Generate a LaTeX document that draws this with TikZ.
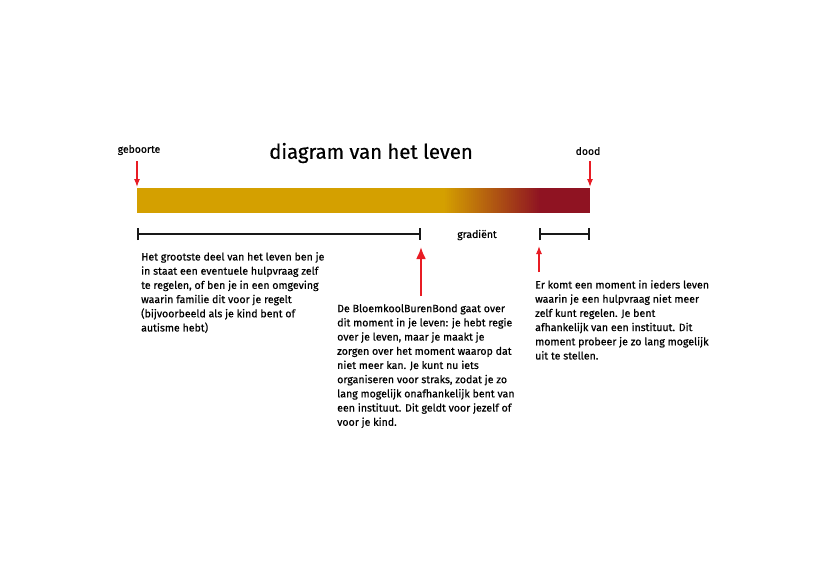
\documentclass[tikz,border=0pt]{standalone}
\usepackage{fontspec}
\setmainfont{Fira Sans}[FakeBold=0.5]
\usetikzlibrary{arrows.meta, positioning}
\definecolor{gold}{RGB}{212,160,0}
\definecolor{wine}{RGB}{143,19,34}
\definecolor{signal}{RGB}{232,28,36}
\tikzset{>=latex}

\begin{document}
\begin{tikzpicture}[x=1pt,y=-1pt]
    \useasboundingbox[fill=white] (0,0) rectangle (830,587);
    % the bar of life
    \fill[gold] (137,188) rectangle (444,213);
    \foreach \i in {0,...,48} {
      \pgfmathsetmacro\share{100-\i*100/48}
      \pgfmathsetmacro\xa{443+2*\i}
      \fill[gold!\share!wine] (\xa,188) rectangle (\xa+2.4,213);
    }
    \fill[wine] (540,188) rectangle (590,213);
    \coordinate (start) at (137,187);
    \coordinate (end) at (590,187);
    \coordinate (spanA) at (137,234);
    \coordinate (spanB) at (421,234);
    \coordinate (spanC) at (539,234);
    \coordinate (spanD) at (590,234);
    \coordinate (pointA) at (421,296);
    \coordinate (tipA) at (421,247);
    \coordinate (pointB) at (539,272);
    \coordinate (tipB) at (539,246);
    \begin{scope}[every node/.style={inner sep=0pt, text=black}]
      \node (title) at (371,153) {\fontsize{20.3}{24}\selectfont diagram van het leven};
      \node (birth) at (139,150) {\fontsize{10.4}{12}\selectfont geboorte};
      \node (death) at (588,151) {\fontsize{10.4}{12}\selectfont dood};
      \node (grad) at (477,235) {\fontsize{10.4}{12}\selectfont gradiënt};
    \end{scope}
    \begin{scope}[every node/.style={inner sep=0pt, anchor=north west, align=left,
                  font=\fontsize{10.6}{14.2}\selectfont}]
      \node (textA) at (141,252) {Het grootste deel van het leven ben je\\
        in staat een eventuele hulpvraag zelf\\
        te regelen, of ben je in een omgeving\\
        waarin familie dit voor je regelt\\
        (bijvoorbeeld als je kind bent of\\
        autisme hebt)};
      \node (textB) at (337,304) {De BloemkoolBurenBond gaat over\\
        dit moment in je leven: je hebt regie\\
        over je leven, maar je maakt je\\
        zorgen over het moment waarop dat\\
        niet meer kan. Je kunt nu iets\\
        organiseren voor straks, zodat je zo\\
        lang mogelijk onafhankelijk bent van\\
        een instituut. Dit geldt voor jezelf of\\
        voor je kind.};
      \node (textC) at (535,280) {Er komt een moment in ieders leven\\
        waarin je een hulpvraag niet meer\\
        zelf kunt regelen. Je bent\\
        afhankelijk van een instituut. Dit\\
        moment probeer je zo lang mogelijk\\
        uit te stellen.};
    \end{scope}
    \begin{scope}[signal, line width=1.2pt]
      \draw[-{Latex[length=8pt, width=6pt]}] (birth.south -| start) ++(0,6) -- (start);
      \draw[-{Latex[length=8pt, width=6pt]}] (death.south -| end) ++(0,6) -- (end);
      \draw[-{Latex[length=8pt, width=6pt]}] (pointB) -- (tipB);
      \draw[line width=2.2pt, -{Latex[length=12pt, width=10pt]}] (pointA) -- (tipA);
    \end{scope}
    \begin{scope}[line width=2.4pt, black!90]
      \draw[{Bar[width=12pt]}-{Bar[width=12pt]}] (spanA) -- (spanB);
      \draw[{Bar[width=12pt]}-{Bar[width=12pt]}] (spanC) -- (spanD);
    \end{scope}
  \end{tikzpicture}
\end{document}
